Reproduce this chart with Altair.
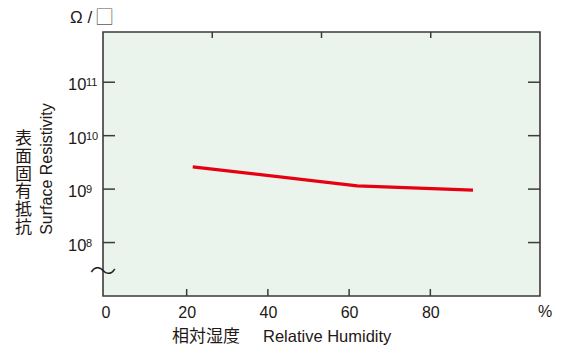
import altair as alt
import pandas as pd

# data
rh = [21.5, 62, 90.5]
resistivity = [2.6e9, 1.15e9, 9.6e8]
x_ticks = [20, 40, 60, 80]
x_labels = [0, 20, 40, 60, 80]
y_ticks = [1e8, 1e9, 1e10, 1e11]
y_exps = ["8", "9", "10", "11"]
top_frac = [0.25, 0.5, 0.75]

W, H = 437, 264
DARK = "#3e3a39"
TXT = "#231815"
FONT = "Liberation Sans, Arial, Noto Sans CJK JP"
RED = "#e60012"

xs = alt.Scale(domain=[-0.6, 107], nice=False, zero=False)
ys = alt.Scale(type="log", domain=[1e7, 8.7e11], nice=False)

line_df = pd.DataFrame({"rh": rh, "r": resistivity})
xt_df = pd.DataFrame({"x": x_ticks})
yt_df = pd.DataFrame({"y": y_ticks, "e": y_exps})
one = pd.DataFrame({"a": [0]})

line = alt.Chart(line_df).mark_line(color=RED, strokeWidth=3.2, clip=True).encode(
    x=alt.X("rh:Q", scale=xs,
            axis=alt.Axis(values=x_labels, ticks=False, domain=False, grid=False,
                          title=None, labelFontSize=16, labelFont=FONT,
                          labelColor=TXT, labelPadding=8, labelFlush=False)),
    y=alt.Y("r:Q", scale=ys, axis=None),
)

bottom_ticks = alt.Chart(xt_df).mark_rule(color=DARK, strokeWidth=1.5).encode(
    x=alt.X("x:Q", scale=xs), y=alt.value(H - 7), y2=alt.value(H)
)
top_ticks = alt.layer(*[
    alt.Chart(one).mark_rule(color=DARK, strokeWidth=1.5).encode(
        x=alt.value(W * f), y=alt.value(0), y2=alt.value(6))
    for f in top_frac
])

left_ticks = alt.Chart(yt_df).mark_rule(color=DARK, strokeWidth=1.5).encode(
    y=alt.Y("y:Q", scale=ys), x=alt.value(0), x2=alt.value(12)
)
right_ticks = alt.Chart(yt_df).mark_rule(color=DARK, strokeWidth=1.5).encode(
    y=alt.Y("y:Q", scale=ys), x=alt.value(W - 12), x2=alt.value(W)
)

ten = alt.Chart(yt_df).mark_text(
    text="10", align="left", baseline="alphabetic", fontSize=16.5, font=FONT,
    color=TXT, dy=8
).encode(y=alt.Y("y:Q", scale=ys), x=alt.value(-35))
exps = alt.Chart(yt_df).mark_text(
    align="left", baseline="alphabetic", fontSize=11, font=FONT, color=TXT, dy=4
).encode(y=alt.Y("y:Q", scale=ys), x=alt.value(-17), text="e:N")

pct = alt.Chart(one).mark_text(
    text="%", align="center", baseline="middle", fontSize=16, font=FONT, color=TXT
).encode(x=alt.value(W + 5), y=alt.value(312 - 32))

unit = alt.Chart(one).mark_text(
    text="Ω /", align="left", baseline="middle", fontSize=17, font=FONT, color=TXT
).encode(x=alt.value(70 - 103), y=alt.value(18 - 32))
unit_box = alt.Chart(one).mark_text(
    text="□", align="left", baseline="middle", fontSize=19,
    font="Noto Sans CJK JP", fontWeight=300, color="#595757"
).encode(x=alt.value(95 - 103), y=alt.value(18 - 32))

ytitle_jp = alt.Chart(one).mark_text(
    text=list("表面固有抵抗"), align="center", baseline="middle", fontSize=17,
    lineHeight=17.8, font="Noto Sans CJK JP", color=TXT
).encode(x=alt.value(23.5 - 103), y=alt.value(139 - 32))

ytitle_en = alt.Chart(one).mark_text(
    text="Surface Resistivity", align="center", baseline="middle", fontSize=16,
    angle=270, font=FONT, color=TXT
).encode(x=alt.value(46.5 - 103), y=alt.value(169 - 32))

xtitle_jp = alt.Chart(one).mark_text(
    text="相対湿度", align="left", baseline="middle", fontSize=17,
    font="Noto Sans CJK JP", color=TXT
).encode(x=alt.value(172 - 103), y=alt.value(337 - 32))
xtitle_en = alt.Chart(one).mark_text(
    text="Relative Humidity", align="left", baseline="middle", fontSize=16.5,
    font=FONT, color=TXT
).encode(x=alt.value(263 - 103), y=alt.value(337 - 32))

wave = alt.Chart(one).mark_text(
    text="〜", align="center", baseline="middle", fontSize=27,
    font="Noto Sans CJK JP", fontWeight=200, color=TXT
).encode(x=alt.value(0), y=alt.value(273 - 32))

chart = alt.layer(
    line, bottom_ticks, top_ticks, left_ticks, right_ticks, ten, exps, pct, unit,
    unit_box, ytitle_jp, ytitle_en, xtitle_jp, xtitle_en, wave
).properties(
    width=W, height=H,
    background="white",
    autosize=alt.AutoSizeParams(type="none"),
    padding={"left": 103, "top": 32, "right": 21, "bottom": 50},
).configure_view(
    fill="#eaf4ec", stroke=DARK, strokeWidth=1.6
)

chart.save("out.html", embed_options={"renderer": "svg", "actions": False})
